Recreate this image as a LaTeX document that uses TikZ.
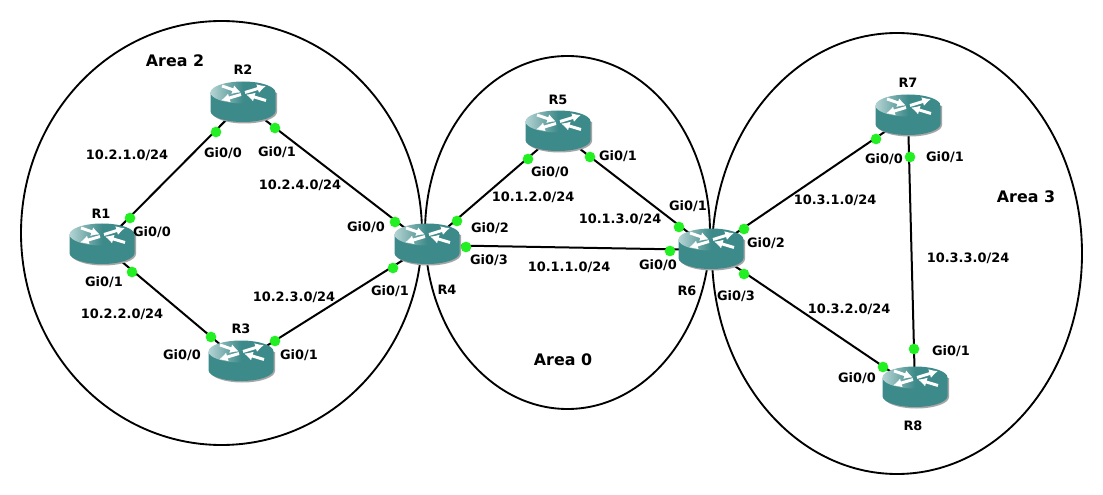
\documentclass[tikz,border=0pt]{standalone}
\usepackage{fontspec}
\setmainfont{DejaVu Sans}
\usepackage{xcolor}
\usetikzlibrary{arrows.meta}
\definecolor{routerteal}{HTML}{3D8A8A}
\definecolor{routerlight}{HTML}{B5D3D3}
\definecolor{portgreen}{HTML}{22F022}
\tikzset{
	router/.style={minimum width=49pt, minimum height=31pt, inner sep=0pt},
	lbl/.style={font=\bfseries\fontsize{9.7}{11}\selectfont, inner sep=0pt},
	area/.style={font=\bfseries\fontsize{11.9}{14}\selectfont, inner sep=0pt},
	link/.style={line width=1.5pt},
	zone/.style={line width=1.4pt},
	port/.style={portgreen},
	pics/routericon/.style={code={
		\fill[black!35] (-31,-10) -- (-31,9) arc[start angle=180, end angle=0, x radius=32.5, y radius=11.5] -- (34,-10) -- cycle;
		\fill[routerteal] (-32.5,-10.5) -- (-32.5,8) arc[start angle=180, end angle=0, x radius=32.5, y radius=11] -- (32.5,-10.5) -- cycle;
		\shade[left color=routerlight, right color=routerteal, middle color=routerteal] (0,-10.5) ellipse[x radius=32.5, y radius=11];
		\draw[white, line width=2.2pt, -{Latex[length=6.5pt,width=7pt]}] (-21,-17) -- (-2,-10.5);
		\draw[white, line width=2.2pt, -{Latex[length=6.5pt,width=7pt]}] (2,-10.5) -- (23,-17);
		\draw[white, line width=2.2pt, -{Latex[length=6.5pt,width=7pt]}] (-2,-8.5) -- (-22,-2.5);
		\draw[white, line width=2.2pt, -{Latex[length=6.5pt,width=7pt]}] (23,-2.5) -- (3,-8.5);
	}}
}
\begin{document}
\begin{tikzpicture}[x=0.75pt, y=-0.75pt]
		\useasboundingbox[fill=white] (0, 0) rectangle (1103, 495);
		% areas
		\draw[zone] (221.5, 233) ellipse[x radius=200.5, y radius=212];
		\draw[zone] (567.5, 232.5) ellipse[x radius=142.5, y radius=176.5];
		\draw[zone] (897, 253.5) ellipse[x radius=185, y radius=220.5];
		\node[area] (area2) at (175, 61) {Area 2};
		\node[area] (area0) at (563, 360) {Area 0};
		\node[area] (area3) at (1026, 197) {Area 3};
		% routers
		\node[router] (r1) at (102, 245) {};
		\node[router] (r2) at (243, 103) {};
		\node[router] (r3) at (241, 362) {};
		\node[router] (r4) at (427, 245) {};
		\node[router] (r5) at (558, 132) {};
		\node[router] (r6) at (711, 250) {};
		\node[router] (r7) at (908, 116) {};
		\node[router] (r8) at (915, 388) {};
		% links
		\draw[link] (r1.center) -- (r2.center);
		\draw[link] (r2.center) -- (r4.center);
		\draw[link] (r1.center) -- (r3.center);
		\draw[link] (r3.center) -- (r4.center);
		\draw[link] (r4.center) -- (r5.center);
		\draw[link] (r5.center) -- (r6.center);
		\draw[link] (r4.center) -- (r6.center);
		\draw[link] (r6.center) -- (r7.center);
		\draw[link] (r6.center) -- (r8.center);
		\draw[link] (r7.center) -- (r8.center);
		\foreach \r in {r1, r2, r3, r4, r5, r6, r7, r8}
			\pic at (\r) {routericon};
		% ports
		\foreach \x/\y in {130/218, 216/132, 275/128, 395/222, 132/272, 211/337, 275/341, 393/268, 457/221, 528/159, 590/157, 679/227, 466/247, 670/251, 744/229, 876/139, 744/274, 883/367, 910/157, 914/349}
			\fill[port] (\x, \y) circle (4pt);
		% router names
		\node[lbl] (n1) at (101, 214) {R1};
		\node[lbl] (n2) at (243, 70) {R2};
		\node[lbl] (n3) at (241, 329) {R3};
		\node[lbl] (n4) at (447, 290) {R4};
		\node[lbl] (n5) at (558, 100) {R5};
		\node[lbl] (n6) at (687, 291) {R6};
		\node[lbl] (n7) at (908, 83) {R7};
		\node[lbl] (n8) at (913, 426) {R8};
		% subnets
		\node[lbl] (s21) at (127, 155) {10.2.1.0/24};
		\node[lbl] (s22) at (122, 314) {10.2.2.0/24};
		\node[lbl] (s23) at (294, 297) {10.2.3.0/24};
		\node[lbl] (s24) at (300, 185) {10.2.4.0/24};
		\node[lbl] (s11) at (569, 267) {10.1.1.0/24};
		\node[lbl] (s12) at (533, 197) {10.1.2.0/24};
		\node[lbl] (s13) at (620, 219) {10.1.3.0/24};
		\node[lbl] (s31) at (835, 200) {10.3.1.0/24};
		\node[lbl] (s32) at (849, 309) {10.3.2.0/24};
		\node[lbl] (s33) at (968, 258) {10.3.3.0/24};
		% interfaces
		\node[lbl] (i10) at (152, 232) {Gi0/0};
		\node[lbl] (i11) at (104, 282) {Gi0/1};
		\node[lbl] (i20) at (223, 153) {Gi0/0};
		\node[lbl] (i21) at (277, 152) {Gi0/1};
		\node[lbl] (i30) at (182, 355) {Gi0/0};
		\node[lbl] (i31) at (299, 355) {Gi0/1};
		\node[lbl] (i40) at (366, 227) {Gi0/0};
		\node[lbl] (i41) at (390, 291) {Gi0/1};
		\node[lbl] (i42) at (490, 228) {Gi0/2};
		\node[lbl] (i43) at (489, 260) {Gi0/3};
		\node[lbl] (i50) at (550, 172) {Gi0/0};
		\node[lbl] (i51) at (618, 156) {Gi0/1};
		\node[lbl] (i60) at (658, 265) {Gi0/0};
		\node[lbl] (i61) at (688, 206) {Gi0/1};
		\node[lbl] (i62) at (766, 243) {Gi0/2};
		\node[lbl] (i63) at (736, 296) {Gi0/3};
		\node[lbl] (i70) at (884, 159) {Gi0/0};
		\node[lbl] (i71) at (945, 157) {Gi0/1};
		\node[lbl] (i80) at (857, 378) {Gi0/0};
		\node[lbl] (i81) at (951, 351) {Gi0/1};
	\end{tikzpicture}
\end{document}
